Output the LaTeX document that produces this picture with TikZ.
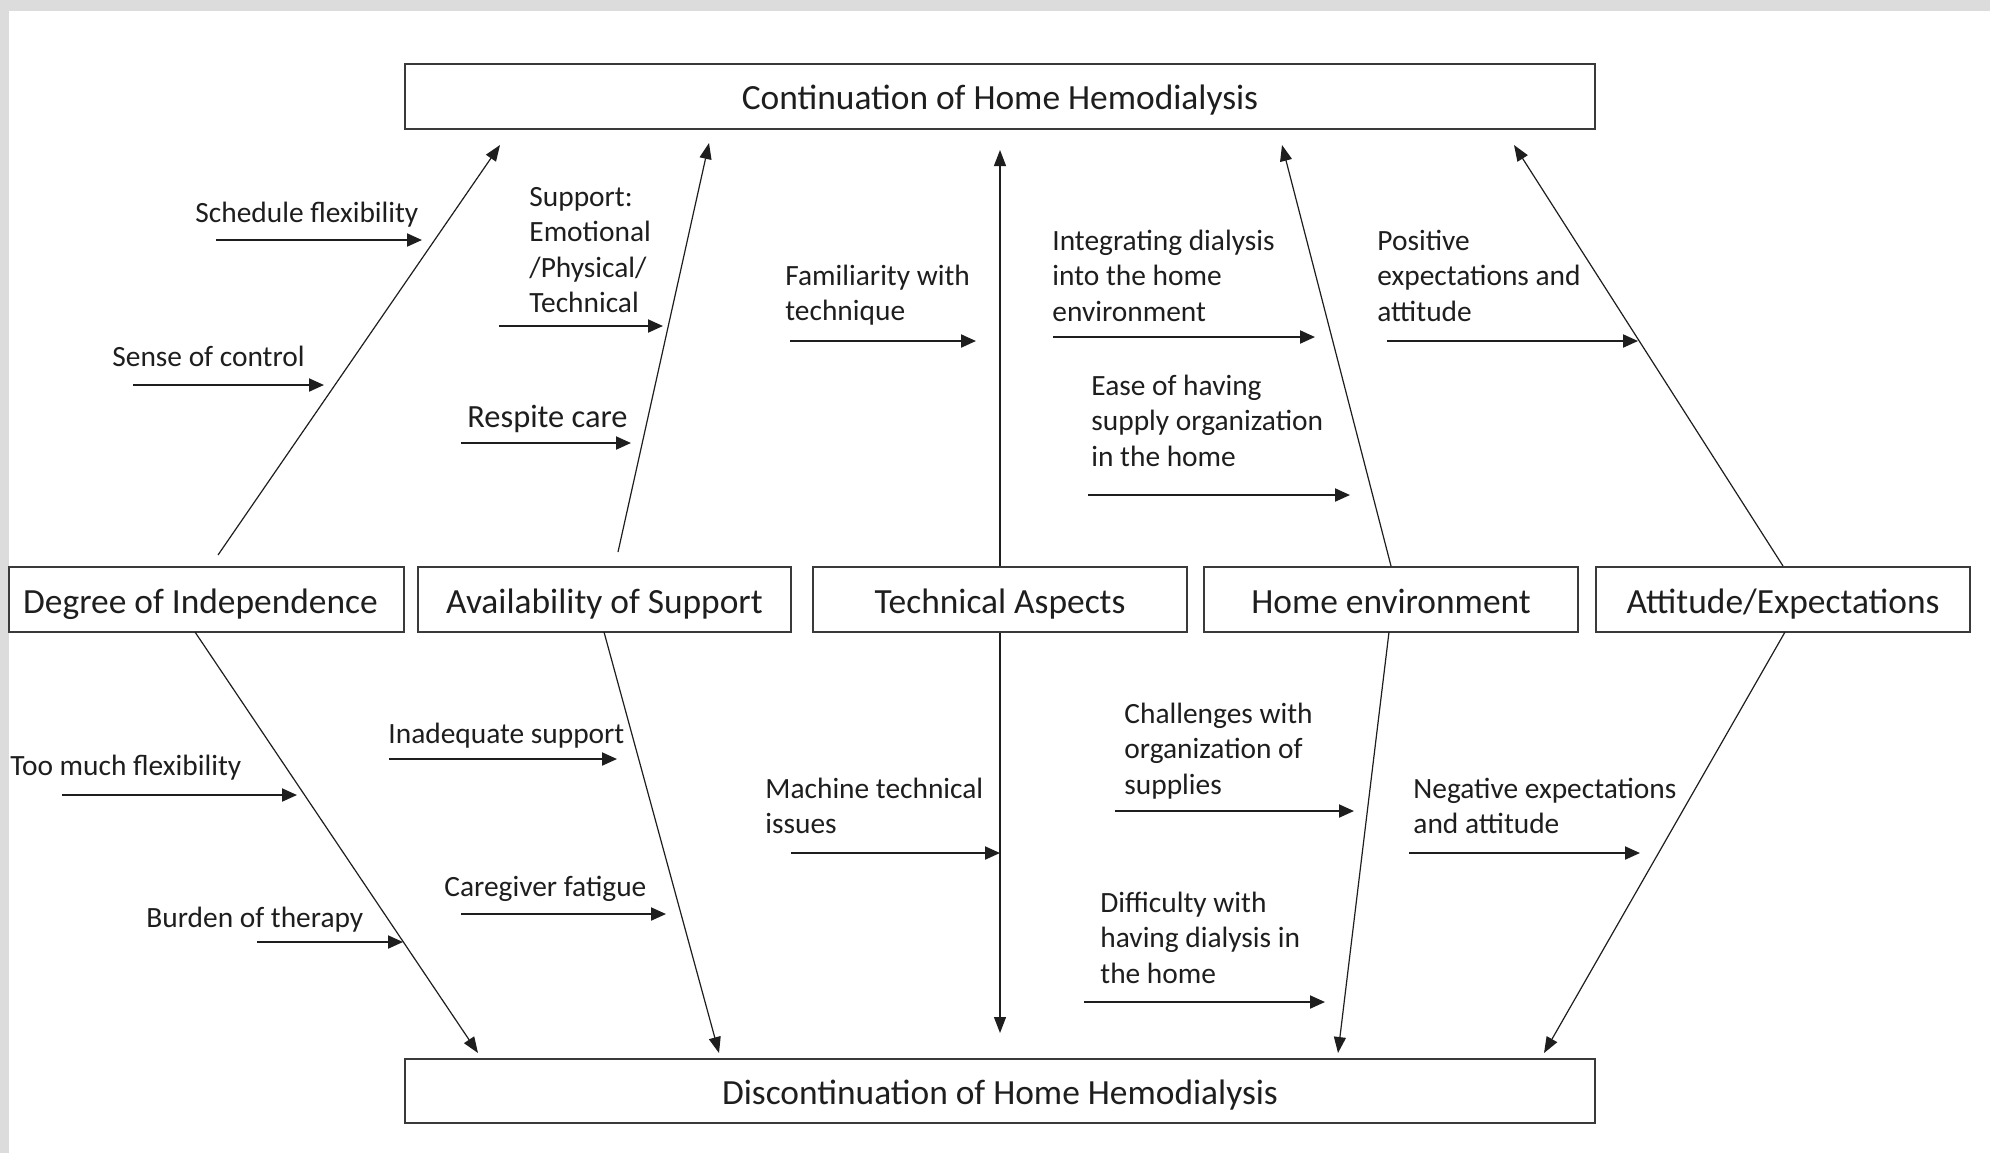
\documentclass[tikz,border=0pt]{standalone}
\usepackage{fontspec}
\setmainfont{Carlito}
\usetikzlibrary{arrows.meta}
\definecolor{bggray}{HTML}{DCDCDC}
\definecolor{boxgray}{HTML}{3A3A3A}
\definecolor{txt}{HTML}{1E1E1E}
\begin{document}
\begin{tikzpicture}[x=0.5pt,y=-0.5pt,
  box/.style={draw=boxgray, line width=1pt, fill=white, inner sep=0pt,
    font=\fontsize{17.7}{21}\selectfont, text=txt, text height=16pt, text depth=2.4pt},
  lbl/.style={anchor=base west, inner sep=0pt, align=left,
    font=\fontsize{14.7}{17.75}\selectfont, text=txt},
  cause/.style={draw=txt, line width=1pt, -{Triangle[length=7.5pt,width=6.5pt]}},
  spine/.style={draw=txt, line width=0.6pt, -{Triangle[length=8pt,width=6pt]}}]
\useasboundingbox (0,0) rectangle (1990,1153);
\fill[bggray] (0,0) rectangle (1990,1153);
\fill[white] (9,11) rectangle (1990,1153);

% main boxes
\node[box, minimum width=595pt, minimum height=32.5pt] (cont) at (1000,96) {Continuation of Home Hemodialysis};
\node[box, minimum width=595pt, minimum height=32pt] (disc) at (1000,1091) {Discontinuation of Home Hemodialysis};
\node[box, minimum width=197.5pt, minimum height=32.5pt] (deg) at (206.5,599.5) {\hspace*{-6pt}Degree of Independence};
\node[box, minimum width=186.5pt, minimum height=32.5pt] (avail) at (604.5,599.5) {Availability of Support};
\node[box, minimum width=187pt, minimum height=32.5pt] (tech) at (1000,599.5) {Technical Aspects};
\node[box, minimum width=187pt, minimum height=32.5pt] (home) at (1391,599.5) {Home environment};
\node[box, minimum width=187pt, minimum height=32.5pt] (att) at (1783,599.5) {Attitude/Expectations};

% spine end points
\coordinate (degU) at (218,555);   \coordinate (degUt) at (500,145);
\coordinate (degD) at (195,632);   \coordinate (degDt) at (478,1053);
\coordinate (avU) at (618,552);    \coordinate (avUt) at (709,143);
\coordinate (avD) at (604,632);    \coordinate (avDt) at (719,1053);
\coordinate (teUt) at (1000,150);  \coordinate (teDt) at (1000,1033);
\coordinate (hoUt) at (1282,145);
\coordinate (hoD) at (1389,632);   \coordinate (hoDt) at (1338,1053);
\coordinate (atUt) at (1514,145);
\coordinate (atD) at (1785,632);   \coordinate (atDt) at (1544,1053);

\draw[spine] (degU) -- (degUt);
\draw[spine] (degD) -- (degDt);
\draw[spine] (avU) -- (avUt);
\draw[spine] (avD) -- (avDt);
\draw[spine] (tech.north) -- (teUt);
\draw[spine] (tech.south) -- (teDt);
\draw[spine] (home.north) -- (hoUt);
\draw[spine] (hoD) -- (hoDt);
\draw[spine] (att.north) -- (atUt);
\draw[spine] (atD) -- (atDt);

% labels (anchor = baseline of last line)
\node[lbl] (l1) at (195,222) {Schedule flexibility};
\node[lbl] (l2) at (112,366) {Sense of control};
\node[lbl] (l3) at (529,312.5) {Support:\\Emotional\\/Physical/\\Technical};
\node[lbl, font=\fontsize{16.2}{19}\selectfont] (l4) at (467,427) {Respite care};
\node[lbl] (l5) at (785,320.5) {Familiarity with\\technique};
\node[lbl] (l6) at (1052,321) {Integrating dialysis\\into the home\\environment};
\node[lbl] (l7) at (1091,466) {Ease of having\\supply organization\\in the home};
\node[lbl] (l8) at (1377,321) {Positive\\expectations and\\attitude};
\node[lbl] (l9) at (10,775) {Too much flexibility};
\node[lbl] (l10) at (146,927) {Burden of therapy};
\node[lbl] (l11) at (388,743) {Inadequate support};
\node[lbl] (l12) at (444,896) {Caregiver fatigue};
\node[lbl] (l13) at (765,833.5) {Machine technical\\issues};
\node[lbl] (l14) at (1124,794) {Challenges with\\organization of\\supplies};
\node[lbl] (l15) at (1413,833.5) {Negative expectations\\and attitude};
\node[lbl] (l16) at (1100,983) {Difficulty with\\having dialysis in\\the home};

% cause arrows
\coordinate (a1s) at (216,240);  \coordinate (a1e) at (422,240);
\coordinate (a2s) at (133,385);  \coordinate (a2e) at (324,385);
\coordinate (a3s) at (499,326);  \coordinate (a3e) at (663,326);
\coordinate (a4s) at (461,443);  \coordinate (a4e) at (631,443);
\coordinate (a5s) at (790,341);  \coordinate (a5e) at (976,341);
\coordinate (a6s) at (1053,337); \coordinate (a6e) at (1315,337);
\coordinate (a7s) at (1088,495); \coordinate (a7e) at (1350,495);
\coordinate (a8s) at (1387,341); \coordinate (a8e) at (1638,341);
\coordinate (a9s) at (62,795);   \coordinate (a9e) at (297,795);
\coordinate (a10s) at (257,942); \coordinate (a10e) at (403,942);
\coordinate (a11s) at (389,759); \coordinate (a11e) at (617,759);
\coordinate (a12s) at (461,914); \coordinate (a12e) at (666,914);
\coordinate (a13s) at (791,853); \coordinate (a13e) at (1000,853);
\coordinate (a14s) at (1115,811); \coordinate (a14e) at (1354,811);
\coordinate (a15s) at (1409,853); \coordinate (a15e) at (1640,853);
\coordinate (a16s) at (1084,1002); \coordinate (a16e) at (1325,1002);
\foreach \i in {1,...,16}{\draw[cause] (a\i s) -- (a\i e);}
\end{tikzpicture}
\end{document}
